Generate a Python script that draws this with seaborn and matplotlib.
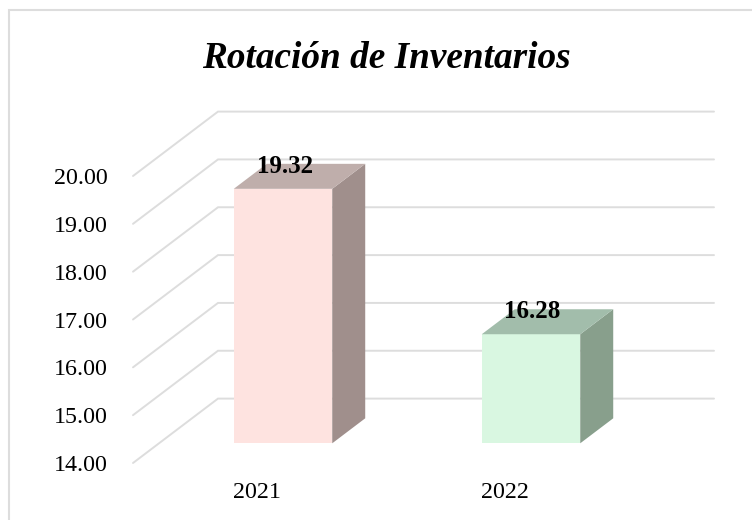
import matplotlib
matplotlib.use("Agg")
import matplotlib.pyplot as plt
import seaborn as sns
from matplotlib.lines import Line2D
from matplotlib.patches import Polygon

years = ["2021", "2022"]
rotacion = [19.32, 16.28]
ticks = [14, 15, 16, 17, 18, 19, 20]
front_colors = ["#FEE3E0", "#D9F7E1"]
side_colors = ["#A08F8C", "#889F8C"]
top_colors = ["#BFAEAB", "#A2BDAB"]

W, H = 752, 520
sns.set_theme(style="white")
plt.rcParams["font.family"] = ["Liberation Serif", "DejaVu Serif"]

fig = plt.figure(figsize=(W / 100, H / 100), dpi=100)
# only the top and left of the frame are in the picture
fig.add_artist(Line2D([9 / W, 9 / W, 1], [0, 1 - 9.5 / H, 1 - 9.5 / H], transform=fig.transFigure,
                      color="#DDDDDD", lw=1.5, solid_joinstyle="miter"))

# front plane of the fake 3d box, in pixels
left, right, y14, y20 = 133, 629, 463, 176
ax = fig.add_axes([left / W, 1 - y14 / H, (right - left) / W, (y14 - y20) / H])
ax.set_xlim(-0.5, 1.5)
ax.set_ylim(14, 20)

# depth of the box in data units
dx = 85 / 248
dy = 64.4 / 47.83
for t in ticks:
    ax.plot([-0.5, -0.5 + dx, 1.5 + dx], [t, t + dy, t + dy], color="#DDDDDD", lw=1.4,
            clip_on=False, zorder=1, solid_joinstyle="miter")

# bars sit part of the way into the box, on their own axes
shift = 0.306
bx = fig.add_axes([(left + 85 * shift) / W, 1 - (y14 - 64.4 * shift) / H, (right - left) / W, (y14 - y20) / H])
bx.patch.set_alpha(0)
sns.barplot(x=years, y=rotacion, hue=years, palette=front_colors, width=0.397, legend=False,
            saturation=1, ax=bx, zorder=3, edgecolor="none", linewidth=0)
bx.set_xlim(-0.5, 1.5)
bx.set_ylim(14, 20)
bx.axis("off")

bar_dx = dx * 0.388
bar_dy = dy * 0.388
for i, bar in enumerate(bx.patches):
    x0 = bar.get_x()
    x1 = x0 + bar.get_width()
    v = rotacion[i]
    bx.add_patch(Polygon([(x1, 14), (x1 + bar_dx, 14 + bar_dy), (x1 + bar_dx, v + bar_dy), (x1, v)],
                         facecolor=side_colors[i], edgecolor="none", clip_on=False, zorder=3))
    bx.add_patch(Polygon([(x0, v), (x1, v), (x1 + bar_dx, v + bar_dy), (x0 + bar_dx, v + bar_dy)],
                         facecolor=top_colors[i], edgecolor="none", clip_on=False, zorder=3))
    bx.text(x0 + 0.205, v + 0.47, "%.2f" % v, ha="center", va="center", fontsize=18,
            fontweight="bold", color="black", zorder=5)

ax.set_yticks(ticks)
ax.set_yticklabels(["%.2f" % t for t in ticks], fontsize=17.3, color="black")
ax.set_xticks([0, 1])
ax.set_xticklabels(years, fontsize=17.3, color="black")
ax.tick_params(axis="y", length=0, pad=18)
ax.tick_params(axis="x", length=0, pad=13.5)
sns.despine(ax=ax, left=True, bottom=True)

fig.text(386.5 / W, 1 - 58 / H, "Rotación de Inventarios", ha="center", va="center", fontsize=26.8,
         fontweight="bold", fontstyle="italic", color="black")

fig.savefig("out.png", dpi=100)
